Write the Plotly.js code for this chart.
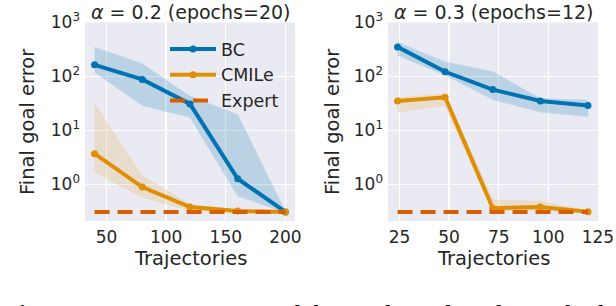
<!DOCTYPE html>
<html>
<head>
<meta charset="utf-8">
<script src="https://cdn.plot.ly/plotly-3.0.1.min.js"></script>
<style>
  html, body { margin: 0; padding: 0; background: #ffffff; overflow: hidden; }
  #chart { width: 616px; height: 306px; }
</style>
</head>
<body>
<div id="chart"></div>
<script>
// ---- Data ----
const trajA = [40, 80, 120, 160, 200];
const bcA = [164, 88, 31, 1.27, 0.307];
const bcAHigh = [347, 171, 43, 19.5, 0.31];
const bcALow = [120, 29, 17.6, 0.61, 0.3];
const cmileA = [3.7, 0.89, 0.38, 0.32, 0.307];
const cmileAHigh = [31, 1.43, 0.42, 0.33, 0.31];
const cmileALow = [1.69, 0.58, 0.33, 0.3, 0.3];
const expertA = [0.307, 0.307, 0.307, 0.307, 0.307];

const trajB = [24, 48, 72, 96, 120];
const bcB = [353, 122, 57, 35, 29];
const bcBHigh = [430, 186, 122, 39, 36];
const bcBLow = [247, 106, 37.5, 22, 18];
const cmileB = [35, 41, 0.36, 0.38, 0.31];
const cmileBHigh = [40, 47, 0.51, 0.48, 0.32];
const cmileBLow = [22, 29, 0.33, 0.33, 0.3];
const expertB = [0.307, 0.307, 0.307, 0.307, 0.307];

const yTickVals = [1, 10, 100, 1000];
const yTickText = ['10<sup>0</sup>', '10<sup>1</sup>', '10<sup>2</sup>', '10<sup>3</sup>'];
const xTickValsA = [50, 100, 150, 200];
const xTickValsB = [25, 50, 75, 100, 125];

const titleA = '<i>α</i> = 0.2 (epochs=20)';
const titleB = '<i>α</i> = 0.3 (epochs=12)';
const xTitle = 'Trajectories';
const yTitle = 'Final goal error';
const caption = '<b>Figure 3:</b>  A comparison of the quality of goals reached';

// ---- Styles ----
const BLUE = '#0173B2', ORANGE = '#DE8F05', VERMILLION = '#D55E00';
const TXT = '#262626';
const FONT = "'DejaVu Sans', sans-serif";

function band(xs, hi, lo, fill, edge, xa, ya) {
  return {
    x: xs.concat(xs.slice().reverse()),
    y: hi.concat(lo.slice().reverse()),
    xaxis: xa, yaxis: ya,
    type: 'scatter', mode: 'lines', fill: 'toself',
    fillcolor: fill, line: {color: edge, width: 1},
    hoverinfo: 'skip', showlegend: false
  };
}
function line(xs, ys, name, color, xa, ya, show, dash) {
  return {
    x: xs, y: ys, name: name, xaxis: xa, yaxis: ya, type: 'scatter',
    mode: dash ? 'lines' : 'lines+markers',
    line: {color: color, width: 4, dash: dash || 'solid'},
    marker: {color: color, size: 7},
    showlegend: show, legendgroup: name
  };
}

const blueFill = 'rgba(1,115,178,0.2)', blueEdge = 'rgba(190,215,235,0.9)';
const orFill = 'rgba(222,143,5,0.15)', orEdge = 'rgba(240,215,185,0.9)';
const dashPat = '15px,8px';

const data = [
  band(trajA, bcAHigh, bcALow, blueFill, blueEdge, 'x', 'y'),
  band(trajA, cmileAHigh, cmileALow, orFill, orEdge, 'x', 'y'),
  line(trajA, bcA, 'BC', BLUE, 'x', 'y', true),
  line(trajA, cmileA, 'CMILe', ORANGE, 'x', 'y', true),
  line(trajA, expertA, 'Expert', VERMILLION, 'x', 'y', true, dashPat),
  band(trajB, bcBHigh, bcBLow, blueFill, blueEdge, 'x2', 'y2'),
  band(trajB, cmileBHigh, cmileBLow, orFill, orEdge, 'x2', 'y2'),
  line(trajB, bcB, 'BC', BLUE, 'x2', 'y2', false),
  line(trajB, cmileB, 'CMILe', ORANGE, 'x2', 'y2', false),
  line(trajB, expertB, 'Expert', VERMILLION, 'x2', 'y2', false, dashPat)
];

const W = 616, H = 306;
const px = v => v / W;
const py = v => 1 - v / H;

function xax(domain, range, tickvals) {
  return {
    domain: domain, range: range, tickvals: tickvals,
    showgrid: true, gridcolor: '#ffffff', gridwidth: 1.3,
    zeroline: false, showline: false, ticks: '',
    ticklabelstandoff: 4,
    tickfont: {family: FONT, size: 17, color: TXT},
    fixedrange: true
  };
}
function yax(anchor) {
  return {
    anchor: anchor, domain: [py(221), py(22.5)], type: 'log',
    range: [-0.68, 3.0], tickvals: yTickVals, ticktext: yTickText,
    showgrid: true, gridcolor: '#ffffff', gridwidth: 1.3,
    zeroline: false, showline: false, ticks: '',
    ticklabelstandoff: 4,
    tickfont: {family: FONT, size: 17, color: TXT},
    fixedrange: true
  };
}

const ann = (text, x, y, size, extra) => Object.assign({
  text: text, xref: 'paper', yref: 'paper', x: x, y: y,
  xanchor: 'center', yanchor: 'middle', showarrow: false,
  font: {family: FONT, size: size, color: TXT}
}, extra || {});

const layout = {
  width: W, height: H,
  margin: {l: 0, r: 0, t: 0, b: 0},
  paper_bgcolor: '#ffffff',
  plot_bgcolor: '#EAEAF2',
  showlegend: true,
  xaxis: Object.assign(xax([px(85), px(295)], [32, 208], xTickValsA), {anchor: 'y'}),
  yaxis: yax('x'),
  xaxis2: Object.assign(xax([px(388), px(598)], [19.2, 125.05], xTickValsB), {anchor: 'y2'}),
  yaxis2: yax('x2'),
  legend: {
    x: px(165), y: py(31), xanchor: 'left', yanchor: 'top',
    bgcolor: 'rgba(0,0,0,0)', borderwidth: 0,
    font: {family: FONT, size: 17.5, color: TXT},
    itemwidth: 46, tracegroupgap: 0
  },
  annotations: [
    ann(titleA, px(190), py(12), 19),
    ann(titleB, px(493), py(12), 19),
    ann(xTitle, px(190), py(258), 19.5),
    ann(xTitle, px(493), py(258), 19.5),
    ann(yTitle, px(27), py(122), 19.5, {textangle: -90}),
    ann(yTitle, px(332), py(122), 19.5, {textangle: -90}),
    ann(caption, 0, py(314.8), 27, {xanchor: 'left',
      font: {family: "'Liberation Serif', serif", size: 27, color: '#000000'}})
  ]
};

Plotly.newPlot('chart', data, layout, {staticPlot: true, displayModeBar: false});
</script>
</body>
</html>
